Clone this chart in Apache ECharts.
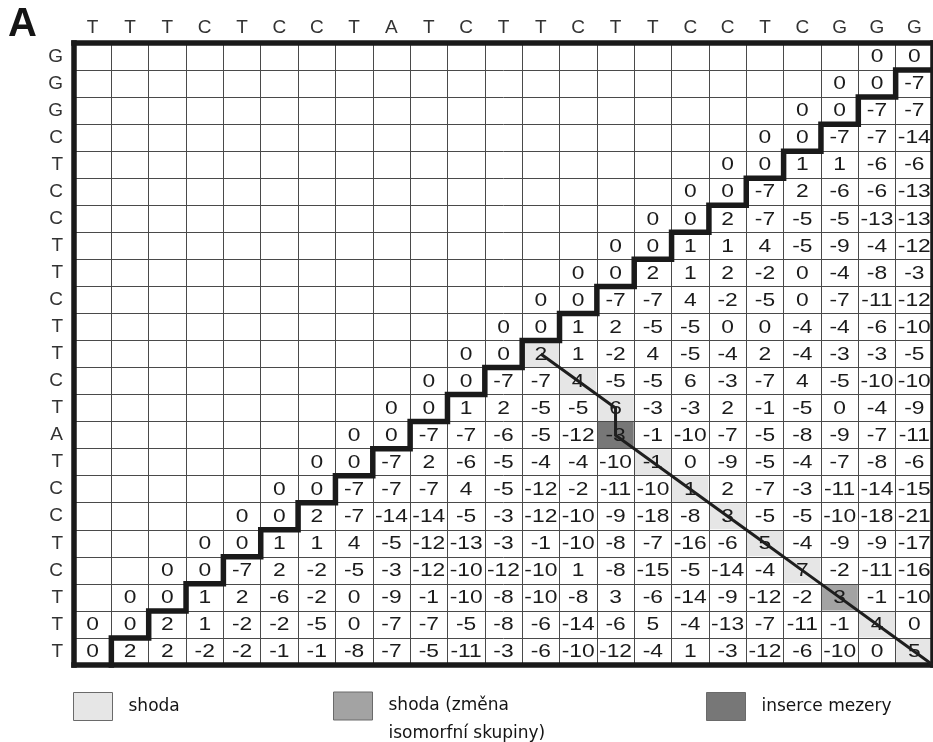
<!DOCTYPE html>
<html>
<head>
<meta charset="utf-8">
<title>Zarovnání sekvencí</title>
<script src="https://cdn.jsdelivr.net/npm/echarts@6/dist/echarts.min.js"></script>
<style>
  html, body { margin: 0; padding: 0; background: #ffffff; }
  #chart { width: 933px; height: 742px; }
</style>
</head>
<body>
<div id="chart"></div>
<script>
// Sequence along the top (columns) and down the left side (rows)
const colSeq = ['T','T','T','C','T','C','C','T','A','T','C','T','T','C','T','T','C','C','T','C','G','G','G'];
const rowSeq = ['G','G','G','C','T','C','C','T','T','C','T','T','C','T','A','T','C','C','T','C','T','T','T'];

// Score matrix, one array per row; each row is right-aligned
// (its first value sits in column colSeq.length - row.length).
const scoreRows = [
  [0, 0],
  [0, 0, -7],
  [0, 0, -7, -7],
  [0, 0, -7, -7, -14],
  [0, 0, 1, 1, -6, -6],
  [0, 0, -7, 2, -6, -6, -13],
  [0, 0, 2, -7, -5, -5, -13, -13],
  [0, 0, 1, 1, 4, -5, -9, -4, -12],
  [0, 0, 2, 1, 2, -2, 0, -4, -8, -3],
  [0, 0, -7, -7, 4, -2, -5, 0, -7, -11, -12],
  [0, 0, 1, 2, -5, -5, 0, 0, -4, -4, -6, -10],
  [0, 0, 2, 1, -2, 4, -5, -4, 2, -4, -3, -3, -5],
  [0, 0, -7, -7, 4, -5, -5, 6, -3, -7, 4, -5, -10, -10],
  [0, 0, 1, 2, -5, -5, 6, -3, -3, 2, -1, -5, 0, -4, -9],
  [0, 0, -7, -7, -6, -5, -12, -3, -1, -10, -7, -5, -8, -9, -7, -11],
  [0, 0, -7, 2, -6, -5, -4, -4, -10, -1, 0, -9, -5, -4, -7, -8, -6],
  [0, 0, -7, -7, -7, 4, -5, -12, -2, -11, -10, 1, 2, -7, -3, -11, -14, -15],
  [0, 0, 2, -7, -14, -14, -5, -3, -12, -10, -9, -18, -8, 3, -5, -5, -10, -18, -21],
  [0, 0, 1, 1, 4, -5, -12, -13, -3, -1, -10, -8, -7, -16, -6, 5, -4, -9, -9, -17],
  [0, 0, -7, 2, -2, -5, -3, -12, -10, -12, -10, 1, -8, -15, -5, -14, -4, 7, -2, -11, -16],
  [0, 0, 1, 2, -6, -2, 0, -9, -1, -10, -8, -10, -8, 3, -6, -14, -9, -12, -2, 3, -1, -10],
  [0, 0, 2, 1, -2, -2, -5, 0, -7, -7, -5, -8, -6, -14, -6, 5, -4, -13, -7, -11, -1, 4, 0],
  [0, 2, 2, -2, -2, -1, -1, -8, -7, -5, -11, -3, -6, -10, -12, -4, 1, -3, -12, -6, -10, 0, 5]
];

// Traceback path: [row, column, kind]
const pathCells = [
  [11, 12, 'match'], [12, 13, 'match'], [13, 14, 'match'], [14, 14, 'gap'],
  [15, 15, 'match'], [16, 16, 'match'], [17, 17, 'match'], [18, 18, 'match'],
  [19, 19, 'match'], [20, 20, 'isomorph'], [21, 21, 'match'], [22, 22, 'match']
];

// Legend labels for the three kinds of highlighted cells
const kindNames = {
  match: 'shoda',
  isomorph: 'shoda (změna isomorfní skupiny)',
  gap: 'inserce mezery'
};
const kindColors = { match: '#e6e6e6', isomorph: '#a3a3a3', gap: '#777777' };

const nCols = colSeq.length;
const nRows = rowSeq.length;

// Flatten the matrix into [col, row, value] cells
const cells = [];
scoreRows.forEach((row, r) => {
  const first = nCols - row.length;
  row.forEach((v, i) => cells.push([first + i, r, v]));
});

// Staircase separating the leading zero band (at most two cells) from the computed scores
const stairs = [];
scoreRows.forEach((row, r) => {
  let zeros = 0;
  while (zeros < 2 && row[zeros] === 0) zeros++;
  const s = nCols - row.length + zeros;   // first computed column in this row
  if (s >= nCols) return;
  stairs.push([s + 1, r], [s, r], [s, r + 1]);
});

// Traceback line through cell centres, running out to the grid corner
const pathLine = pathCells.map(([r, c]) => [c + 0.5, r + 0.5]);
pathLine.push([nCols, nRows]);

const numFont = '"Liberation Sans", Arial, Helvetica, sans-serif';
const legendFont = '"DejaVu Sans", Verdana, sans-serif';
const ink = '#1b1b1b';

function cellRect(api, c, r) {
  const p0 = api.coord([c, r]);
  const p1 = api.coord([c + 1, r + 1]);
  return {
    x: Math.min(p0[0], p1[0]), y: Math.min(p0[1], p1[1]),
    w: Math.abs(p1[0] - p0[0]), h: Math.abs(p1[1] - p0[1])
  };
}

function renderShade(params, api) {
  const b = cellRect(api, api.value(0), api.value(1));
  return {
    type: 'rect',
    shape: { x: b.x + 0.5, y: b.y + 0.5, width: b.w - 1, height: b.h - 1 },
    style: { fill: api.visual('color') }
  };
}

function renderScore(params, api) {
  const b = cellRect(api, api.value(0), api.value(1));
  return {
    type: 'text',
    x: b.x + b.w / 2,
    y: b.y + b.h / 2 + 0.5,
    scaleX: 1.2,
    style: {
      text: String(api.value(2)),
      x: 0, y: 0,
      align: 'center', verticalAlign: 'middle',
      fontSize: 19, fontFamily: numFont, fill: ink
    }
  };
}

const shadeSeries = Object.keys(kindNames).map(kind => ({
  name: kindNames[kind],
  type: 'custom',
  xAxisIndex: 1, yAxisIndex: 1,
  coordinateSystem: 'cartesian2d',
  itemStyle: { color: kindColors[kind] },
  renderItem: renderShade,
  encode: { x: 0, y: 1 },
  silent: true,
  z: 1,
  data: pathCells.filter(p => p[2] === kind).map(p => [p[1], p[0]])
}));

const thick = { color: '#1a1a1a', width: 5.5, cap: 'square' };

const legendBase = {
  orient: 'horizontal',
  padding: 0,
  icon: 'rect',
  itemWidth: 39,
  itemHeight: 28,
  itemStyle: { borderColor: '#6a6a6a', borderWidth: 1 },
  textStyle: { fontFamily: legendFont, fontSize: 17, color: '#141414', padding: [0, 0, 0, 11] }
};

const option = {
  animation: false,
  backgroundColor: '#ffffff',
  title: {
    text: 'A',
    left: 8, top: 5, padding: 0,
    textStyle: { fontSize: 40, fontWeight: 'bold', fontFamily: numFont, color: '#151515' }
  },
  legend: [
    Object.assign({}, legendBase, { data: [kindNames.match], left: 73, top: 692 }),
    Object.assign({}, legendBase, {
      data: [kindNames.isomorph], left: 333, top: 664,
      // empty first line keeps the first text line level with the swatch
      formatter: name => '\n' + name.replace(' isomorfní', '\nisomorfní'),
      textStyle: Object.assign({}, legendBase.textStyle, { lineHeight: 28 })
    }),
    Object.assign({}, legendBase, { data: [kindNames.gap], left: 706, top: 692 })
  ],
  grid: { left: 74, top: 43, width: 859, height: 622, containLabel: false },
  xAxis: [
    {
      type: 'category', data: colSeq, position: 'top', z: 10,
      axisLine: { show: true, onZero: false, lineStyle: thick },
      axisTick: { show: false },
      axisLabel: { interval: 0, margin: 6, fontSize: 19, fontFamily: numFont, color: '#333' },
      splitLine: { show: true, interval: 0, lineStyle: { color: '#4a4a4a', width: 1 } }
    },
    {
      type: 'value', min: 0, max: nCols, position: 'bottom', z: 10,
      axisLine: { show: true, onZero: false, lineStyle: thick },
      axisTick: { show: false }, axisLabel: { show: false }, splitLine: { show: false }
    }
  ],
  yAxis: [
    {
      type: 'category', data: rowSeq, inverse: true, position: 'left', z: 10,
      axisLine: { show: true, onZero: false, lineStyle: thick },
      axisTick: { show: false },
      axisLabel: { interval: 0, margin: 11, fontSize: 19, fontFamily: numFont, color: '#333' },
      splitLine: { show: true, interval: 0, lineStyle: { color: '#4a4a4a', width: 1 } }
    },
    {
      type: 'value', min: 0, max: nRows, inverse: true, position: 'right', z: 10,
      axisLine: { show: true, onZero: false, lineStyle: thick },
      axisTick: { show: false }, axisLabel: { show: false }, splitLine: { show: false }
    }
  ],
  series: shadeSeries.concat([
    {
      name: 'skóre',
      type: 'custom',
      xAxisIndex: 1, yAxisIndex: 1,
      renderItem: renderScore,
      encode: { x: 0, y: 1 },
      silent: true,
      z: 3,
      data: cells
    },
    {
      name: 'hranice',
      type: 'line',
      xAxisIndex: 1, yAxisIndex: 1,
      data: stairs,
      symbol: 'none',
      clip: false,
      silent: true,
      z: 12,
      lineStyle: { color: '#1a1a1a', width: 5.5, join: 'miter', cap: 'square' }
    },
    {
      name: 'cesta',
      type: 'line',
      xAxisIndex: 1, yAxisIndex: 1,
      data: pathLine,
      symbol: 'none',
      clip: false,
      silent: true,
      z: 12,
      lineStyle: { color: '#1e1e1e', width: 3, join: 'miter' }
    }
  ])
};

const chart = echarts.init(document.getElementById('chart'), null, { renderer: 'canvas' });
chart.setOption(option);
</script>
</body>
</html>
